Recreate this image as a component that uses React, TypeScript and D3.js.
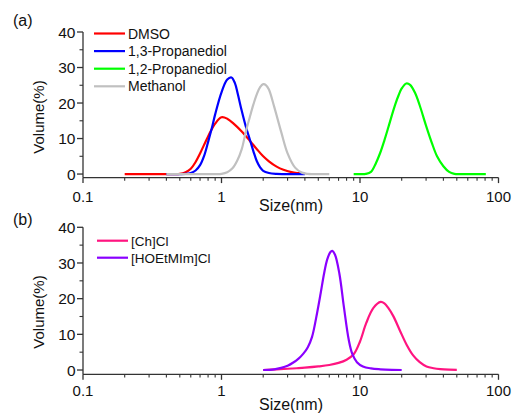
import React from "react";
import * as d3 from "d3";

type Pt = [number, number];

// size (nm) vs volume (%)
const dmso: Pt[] = [
  [0.2, 0], [0.25, 0], [0.3, 0], [0.35, 0], [0.4, 0], [0.45, 0], [0.5, 0.05], [0.55, 0.5],
  [0.6, 1.5], [0.65, 3.4], [0.7, 5.8], [0.8, 10.6], [0.9, 14.2], [1.0, 16.0], [1.1, 15.6],
  [1.24, 14.0], [1.4, 12.0], [1.6, 9.4], [1.8, 7.0], [2.0, 5.0], [2.2, 3.6], [2.5, 2.1],
  [2.8, 1.2], [3.2, 0.55], [3.6, 0.25], [4.0, 0.05],
];
const propanediol13: Pt[] = [
  [0.4, 0], [0.5, 0], [0.55, 0.05], [0.6, 0.3], [0.65, 1.0], [0.7, 2.5], [0.75, 5.2],
  [0.8, 9.0], [0.85, 12.8], [0.9, 16.8], [1.0, 23.0], [1.1, 26.6], [1.18, 27.2], [1.25, 25.6],
  [1.31, 22.6], [1.4, 17.8], [1.5, 13.3], [1.6, 9.8], [1.7, 6.4], [1.8, 3.6], [1.9, 1.9],
  [2.0, 0.9], [2.2, 0.3], [2.5, 0.05], [2.8, 0], [3.2, 0], [3.6, 0], [4.0, 0],
];
const propanediol12: Pt[] = [
  [9, 0], [10, 0], [11, 0.05], [12, 0.6], [13, 3.0], [14, 6.0], [15, 9.5], [16, 13.1],
  [17, 16.6], [18, 19.7], [19, 22.2], [20, 24.1], [21.6, 25.5], [23, 25.1], [25, 22.8],
  [27, 19.3], [30, 13.6], [33, 8.8], [36, 5.0], [40, 2.2], [44, 0.6], [48, 0.05], [55, 0],
  [65, 0], [81, 0],
];
const methanol: Pt[] = [
  [0.4, 0], [0.5, 0], [0.6, 0], [0.7, 0], [0.8, 0], [0.9, 0], [1.0, 0.05], [1.1, 0.5],
  [1.2, 1.6], [1.3, 3.8], [1.4, 7.0], [1.5, 12.0], [1.6, 16.0], [1.7, 19.6], [1.8, 22.5],
  [1.9, 24.5], [2.0, 25.3], [2.1, 25.0], [2.2, 23.8], [2.4, 19.0], [2.7, 11.8], [3.0, 5.8],
  [3.4, 1.8], [3.8, 0.4], [4.2, 0.05], [4.6, 0], [5.2, 0], [6.0, 0],
];
const chCl: Pt[] = [
  [2, 0], [2.5, 0.2], [3, 0.35], [3.5, 0.5], [4, 0.65], [5, 1.0], [6, 1.4], [7, 2.0],
  [8, 2.9], [9, 4.4], [10, 8.0], [11.1, 13.2], [12.5, 17.4], [14.1, 19.1], [15, 18.7],
  [16, 17.4], [17.4, 15.1], [19.4, 11.1], [21.7, 7.1], [24.2, 4.1], [27, 2.2], [30.2, 1.0],
  [34, 0.5], [38, 0.25], [44, 0.1], [50, 0.05],
];
const hoetmimCl: Pt[] = [
  [2, 0], [2.4, 0.2], [2.7, 0.6], [3, 1.2], [3.3, 2.1], [3.6, 3.2], [3.9, 4.6], [4.2, 6.4],
  [4.5, 9.2], [4.9, 16.0], [5.2, 21.5], [5.5, 27.0], [5.8, 31.0], [6.1, 33.0], [6.3, 33.4],
  [6.6, 32.3], [7.1, 27.0], [7.65, 17.7], [8.3, 8.4], [8.8, 4.5], [9.5, 2.2], [10.5, 1.0],
  [12, 0.45], [14, 0.2], [17, 0.05], [20, 0],
];

const topNames = ["DMSO", "1,3-Propanediol", "1,2-Propanediol", "Methanol"];
const topColors = ["#ff0000", "#0000ff", "#00ff00", "#c0c0c0"];
const bottomNames = ["[Ch]Cl", "[HOEtMIm]Cl"];
const bottomColors = ["#ff1480", "#8a00ff"];

const sizeTicks = [0.1, 1, 10, 100];
const sizeTickLabels = ["0.1", "1", "10", "100"];
const volumeTicks = [0, 10, 20, 30, 40];
const volumeMinorTicks = [5, 15, 25, 35];

const font = "Liberation Sans, Arial, sans-serif";
const axisColor = "#333";

interface PanelProps {
  label: string;
  labelY: number;
  yRange: [number, number];
  yMin: number;
  series: Pt[][];
  names: string[];
  colors: string[];
  legendX: number;
  legendY: number;
  legendStep: number;
  legendFont: number;
  volCenterY: number;
  tickLabelY: number;
  sizeTitleY: number;
}

function Panel(p: PanelProps) {
  const x = d3.scaleLog().domain([0.1, 100]).range([83, 498.5]);
  const y = d3.scaleLinear().domain([p.yMin, 40]).range(p.yRange);
  const line = d3
    .line<Pt>()
    .x((d) => x(d[0]))
    .y((d) => y(d[1]))
    .curve(d3.curveCatmullRom.alpha(0.5));

  const minorX: number[] = [];
  [0.1, 1, 10].forEach((dec) => {
    for (let k = 2; k <= 9; k++) minorX.push(dec * k);
  });

  const x0 = x(0.1);
  const yb = y(p.yMin);

  return (
    <g>
      <text x={13} y={p.labelY} fontSize={16} fontFamily={font} fill="#111">
        {p.label}
      </text>
      {/* series */}
      {p.series.map((s, i) => (
        <path key={i} d={line(s) || ""} fill="none" stroke={p.colors[i]} strokeWidth={2.2} />
      ))}
      {/* y axis */}
      <line x1={x0} x2={x0} y1={yb} y2={y(40)} stroke={axisColor} strokeWidth={1.3} />
      {volumeTicks.map((t) => (
        <g key={t}>
          <line x1={x0 - 6} x2={x0} y1={y(t)} y2={y(t)} stroke={axisColor} strokeWidth={1.3} />
          <text x={x0 - 7.5} y={y(t)} dy="0.36em" textAnchor="end" fontSize={15.5} fontFamily={font} fill="#111">
            {t}
          </text>
        </g>
      ))}
      {volumeMinorTicks.map((t) => (
        <line key={t} x1={x0 - 3.5} x2={x0} y1={y(t)} y2={y(t)} stroke={axisColor} strokeWidth={1.1} />
      ))}
      {/* x axis */}
      <line x1={x0} x2={x(100)} y1={yb} y2={yb} stroke={axisColor} strokeWidth={1.3} />
      {sizeTicks.map((t, i) => (
        <g key={t}>
          <line x1={x(t)} x2={x(t)} y1={yb} y2={yb + 5.5} stroke={axisColor} strokeWidth={1.3} />
          <text x={x(t)} y={p.tickLabelY} textAnchor="middle" fontSize={15} fontFamily={font} fill="#111">
            {sizeTickLabels[i]}
          </text>
        </g>
      ))}
      {minorX.map((t) => (
        <line key={t} x1={x(t)} x2={x(t)} y1={yb} y2={yb + 3.2} stroke={axisColor} strokeWidth={1.1} />
      ))}
      {/* axis titles */}
      <text
        transform={`translate(${39},${p.volCenterY}) rotate(-90)`}
        textAnchor="middle"
        dy="0.35em"
        fontSize={15}
        fontFamily={font}
        fill="#111"
      >
        Volume(%)
      </text>
      <text x={291} y={p.sizeTitleY} textAnchor="middle" fontSize={16} fontFamily={font} fill="#111">
        Size(nm)
      </text>
      {/* legend */}
      {p.names.map((n, i) => {
        const ly = p.legendY + i * p.legendStep;
        return (
          <g key={n}>
            <line x1={p.legendX} x2={p.legendX + 31} y1={ly} y2={ly} stroke={p.colors[i]} strokeWidth={2.2} />
            <text x={p.legendX + 34} y={ly} dy="0.36em" fontSize={p.legendFont} fontFamily={font} fill="#111">
              {n}
            </text>
          </g>
        );
      })}
    </g>
  );
}

export default function App() {
  return (
    <svg
      width={512}
      height={413}
      viewBox="0 0 512 413"
      style={{ position: "absolute", left: 0, top: 0, background: "#fff" }}
    >
      <rect width={512} height={413} fill="#fff" />
      <Panel
        label="(a)"
        labelY={26}
        yRange={[177.6, 32]}
        yMin={-1}
        series={[dmso, propanediol13, propanediol12, methanol]}
        names={topNames}
        colors={topColors}
        legendX={94}
        legendY={33.5}
        legendStep={17.6}
        legendFont={14}
        volCenterY={117}
        tickLabelY={201.5}
        sizeTitleY={211}
      />
      <Panel
        label="(b)"
        labelY={225}
        yRange={[374.3, 227.3]}
        yMin={-1.2}
        series={[chCl, hoetmimCl]}
        names={bottomNames}
        colors={bottomColors}
        legendX={97}
        legendY={240.7}
        legendStep={17}
        legendFont={13.5}
        volCenterY={312}
        tickLabelY={395.5}
        sizeTitleY={410}
      />
    </svg>
  );
}
